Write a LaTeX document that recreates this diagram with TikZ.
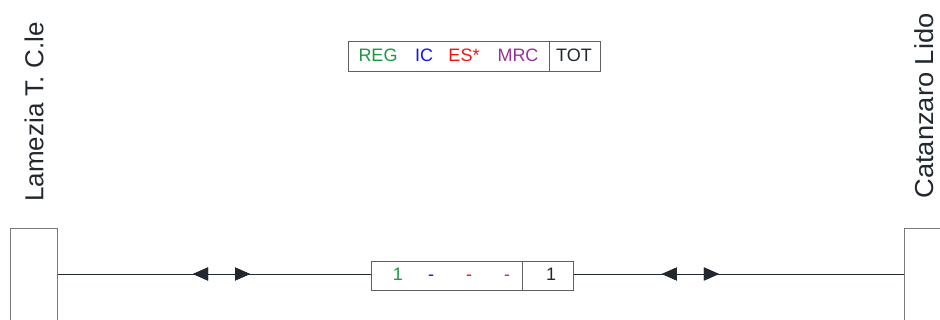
\documentclass[tikz,border=0pt]{standalone}
\usepackage{fontspec}
\setmainfont{Liberation Sans}
\usetikzlibrary{arrows.meta,decorations.markings}
\definecolor{regc}{RGB}{30,150,70}
\definecolor{icc}{RGB}{20,20,235}
\definecolor{esc}{RGB}{240,20,20}
\definecolor{mrcc}{RGB}{150,50,150}
\definecolor{ink}{RGB}{34,40,48}
\definecolor{frame}{RGB}{120,120,120}
\tikzset{
  station/.style={draw=frame, line width=1pt, minimum width=47pt, minimum height=120pt, anchor=north west, inner sep=0pt},
  stlabel/.style={rotate=90, font=\fontsize{26}{26}\selectfont, text=ink, inner sep=0pt},
  cell/.style={draw=frame!80!black, line width=0.9pt, anchor=north west, inner sep=0pt, minimum height=29pt},
  lg/.style={font=\fontsize{18}{18}\selectfont, inner sep=0pt, anchor=base},
  track/.style={draw=ink, line width=0.9pt},
  tipL/.style={postaction={decorate}, decoration={markings,
      mark=at position #1 with {\arrowreversed[fill=ink]{Triangle[length=15pt,width=13pt]}}}},
  tipR/.style={postaction={decorate}, decoration={markings,
      mark=at position #1 with {\arrow[fill=ink]{Triangle[length=15pt,width=13pt]}}}},
}
\begin{document}
\begin{tikzpicture}[x=1pt,y=-1pt]
\clip (0,0) rectangle (940,320);
\fill[white] (0,0) rectangle (940,320);

% station names
\node[stlabel] (lamName) at (34,112) {Lamezia T. C.le};
\node[stlabel, xscale=1.05] (czName) at (924,106) {Catanzaro Lido};

% station boxes
\node[station] (lam) at (10,228) {};
\node[station] (cz) at (904,228) {};

% legend
\node[cell, minimum width=201pt, minimum height=30pt] (lgcat) at (348,41) {};
\node[cell, minimum width=51pt, minimum height=30pt] (lgtot) at (549,41) {};
\node[lg, text=regc] at (378,62) {REG};
\node[lg, text=icc] at (424,62) {IC};
\node[lg, text=esc] at (464,62) {ES*};
\node[lg, text=mrcc] at (518,62) {MRC};
\node[lg, text=ink] (lgtotT) at (574,62) {TOT};

% counters
\node[cell, minimum width=151pt] (cnt) at (371,261) {};
\node[cell, minimum width=51pt] (tot) at (522,261) {};
\node[lg, text=regc] at (398,281) {1};
\node[lg, text=icc] at (431,281) {-};
\node[lg, text=esc] at (469,281) {-};
\node[lg, text=mrcc] at (507,281) {-};
\node[lg, text=ink] at (551,281) {1};

% tracks
\coordinate (lamR) at (lam.north east |- 0,274);
\coordinate (czL) at (cz.north west |- 0,274);
\coordinate (cntL) at (cnt.west |- 0,274);
\coordinate (totR) at (tot.east |- 0,274);
\draw[track, tipL=135pt, tipR=192pt] (lamR) -- (cntL);
\draw[track, tipL=88pt, tipR=145pt] (totR) -- (czL);
\end{tikzpicture}
\end{document}
